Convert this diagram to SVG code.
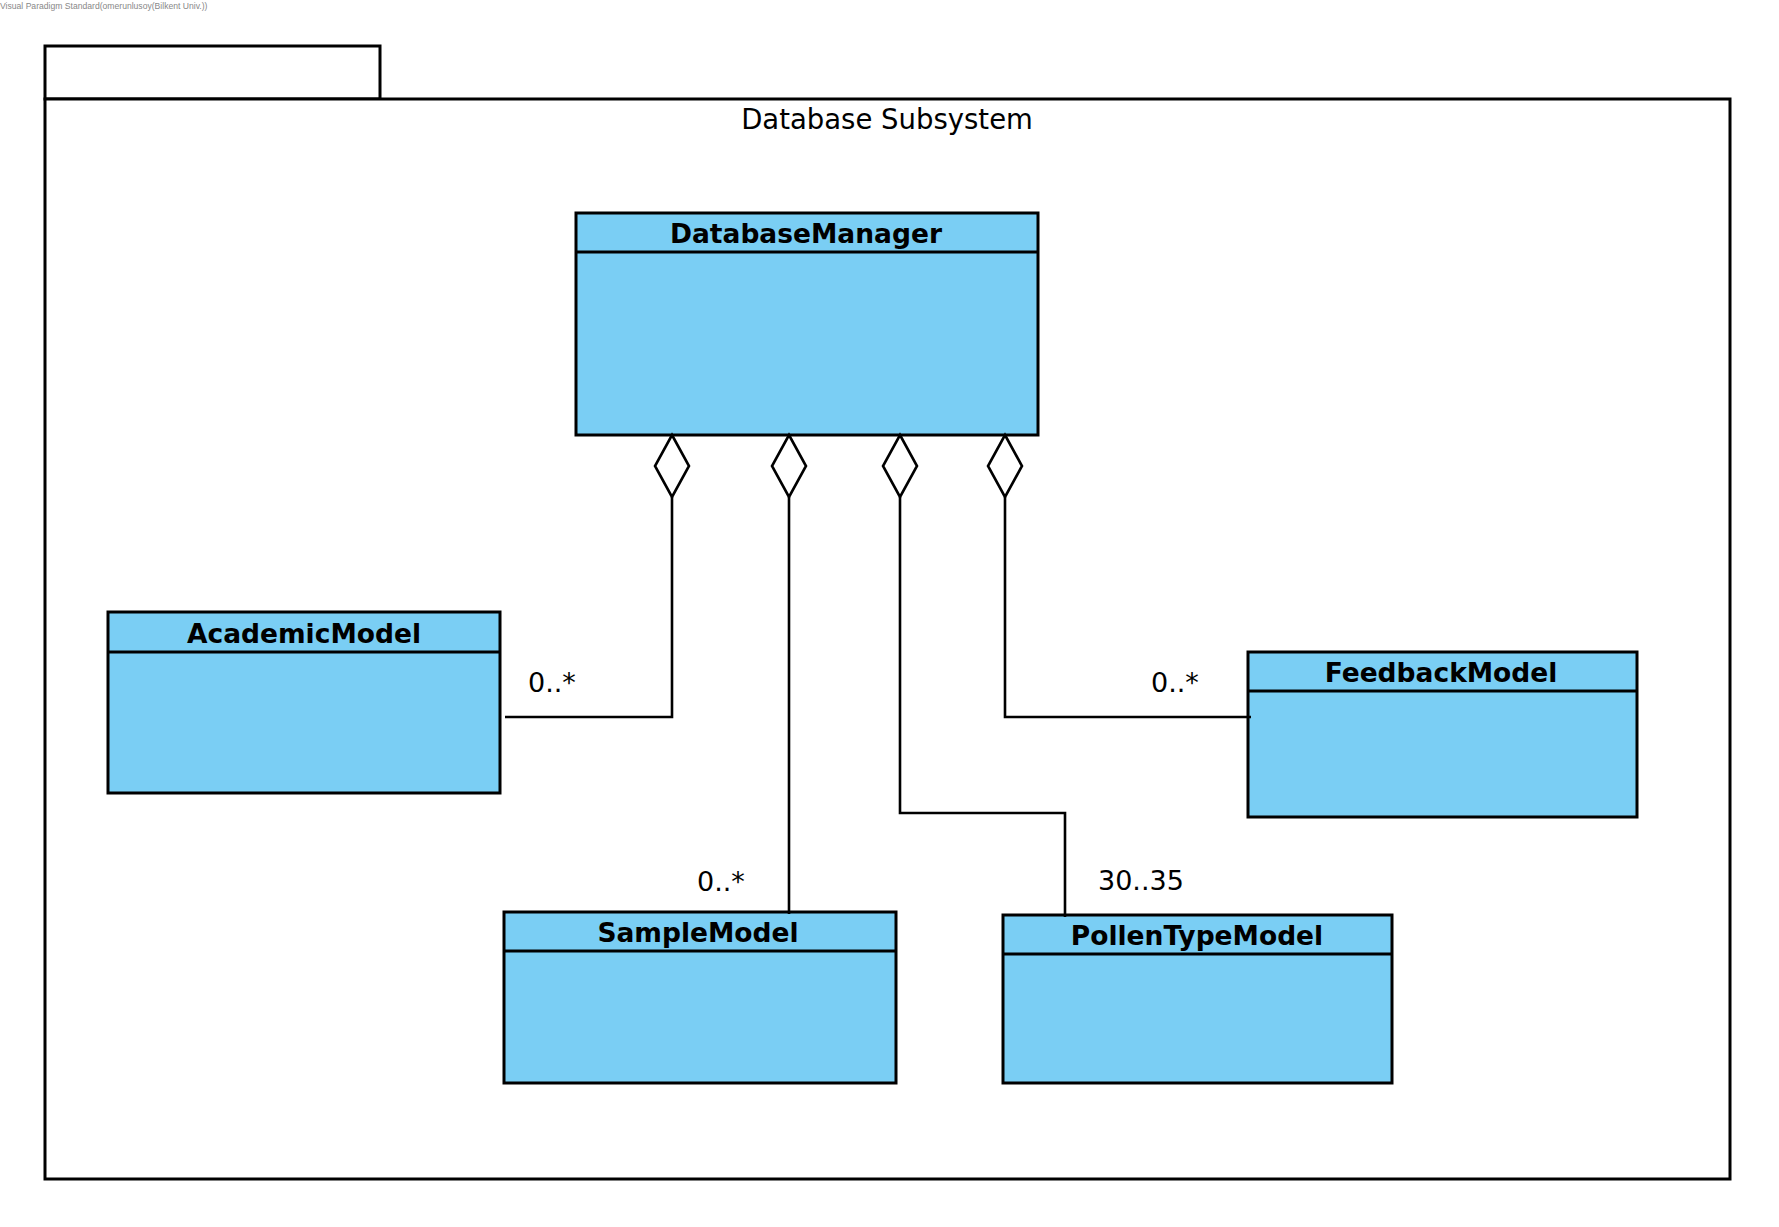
<svg xmlns="http://www.w3.org/2000/svg" width="1779" height="1227" viewBox="0 0 1779 1227">
<style>
.cls{fill:#7ACEF4;stroke:#000;stroke-width:3}
.sep{stroke:#000;stroke-width:2.8;fill:none}
.name{font-family:"DejaVu Sans",sans-serif;font-weight:bold;font-size:26.5px;fill:#000;text-anchor:middle}
.lbl{font-family:"DejaVu Sans",sans-serif;font-size:27px;fill:#000}
.conn{fill:none;stroke:#000;stroke-width:2.6}
.dia{fill:#fff;stroke:#000;stroke-width:2.6}
.pkg{fill:#fff;stroke:#000;stroke-width:3}
</style>
<rect width="1779" height="1227" fill="#fff"/>
<text x="0" y="9" font-family="Liberation Sans, sans-serif" font-size="8.6" fill="#888">Visual Paradigm Standard(omerunlusoy(Bilkent Univ.))</text>
<g id="package">
<rect class="pkg" x="45" y="46" width="335" height="53"/>
<rect class="pkg" x="45" y="99" width="1685" height="1080"/>
<text x="887" y="129" font-family="DejaVu Sans, sans-serif" font-size="27.5" text-anchor="middle">Database Subsystem</text>
</g>
<g id="DatabaseManager">
<rect class="cls" x="576" y="213" width="462" height="222"/>
<line class="sep" x1="576" y1="252" x2="1038" y2="252"/>
<text class="name" x="806" y="243">DatabaseManager</text>
</g>
<g id="AcademicModel">
<rect class="cls" x="108" y="612" width="392" height="181"/>
<line class="sep" x1="108" y1="652" x2="500" y2="652"/>
<text class="name" x="304" y="643">AcademicModel</text>
</g>
<g id="FeedbackModel">
<rect class="cls" x="1248" y="652" width="389" height="165"/>
<line class="sep" x1="1248" y1="691" x2="1637" y2="691"/>
<text class="name" x="1441" y="682">FeedbackModel</text>
</g>
<g id="SampleModel">
<rect class="cls" x="504" y="912" width="392" height="171"/>
<line class="sep" x1="504" y1="951" x2="896" y2="951"/>
<text class="name" x="698" y="942">SampleModel</text>
</g>
<g id="PollenTypeModel">
<rect class="cls" x="1003" y="915" width="389" height="168"/>
<line class="sep" x1="1003" y1="954" x2="1392" y2="954"/>
<text class="name" x="1197" y="945">PollenTypeModel</text>
</g>
<g id="connectors">
<polyline class="conn" points="672,497 672,717 505,717"/>
<polyline class="conn" points="789,497 789,914"/>
<polyline class="conn" points="900,497 900,813 1065,813 1065,917"/>
<polyline class="conn" points="1005,497 1005,717 1251,717"/>
<polygon class="dia" points="672,435 689,466 672,497 655,466"/>
<polygon class="dia" points="789,435 806,466 789,497 772,466"/>
<polygon class="dia" points="900,435 917,466 900,497 883,466"/>
<polygon class="dia" points="1005,435 1022,466 1005,497 988,466"/>
<text class="lbl" x="528" y="692">0..*</text>
<text class="lbl" x="697" y="891">0..*</text>
<text class="lbl" x="1098" y="890">30..35</text>
<text class="lbl" x="1151" y="692">0..*</text>
</g>
</svg>
